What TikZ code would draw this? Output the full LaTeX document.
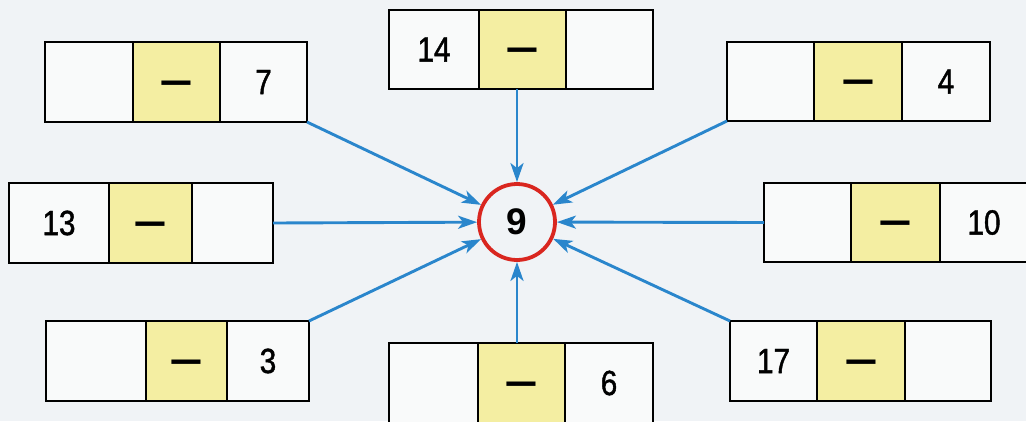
\documentclass[tikz,border=0pt]{standalone}
\usepackage{fontspec}
\setmainfont{Liberation Sans}
\newfontfamily\numfont[FakeStretch=0.85,FakeBold=1.2]{Liberation Sans}
\usetikzlibrary{arrows.meta,calc}
\definecolor{bg}{HTML}{F0F3F6}
\definecolor{cellwhite}{HTML}{F9FAFA}
\definecolor{cellyellow}{HTML}{F4EEA2}
\definecolor{arrowblue}{HTML}{2A86CC}
\definecolor{ringred}{HTML}{D9261F}
\newcommand\tribox[9]{%
  \node[cell, minimum width={#3-#2}, minimum height={#7-#6}] (#11) at ({(#2+#3)/2},{(#6+#7)/2}) {#8};
  \node[opcell, minimum width={#4-#3}, minimum height={#7-#6}] (#12) at ({(#3+#4)/2},{(#6+#7)/2}) {\scalebox{1.45}[1]{−}};
  \node[cell, minimum width={#5-#4}, minimum height={#7-#6}] (#13) at ({(#4+#5)/2},{(#6+#7)/2}) {#9};
}
\begin{document}
\begin{tikzpicture}[x=1pt,y=-1pt,
  cell/.style={draw=black, line width=1.9pt, fill=cellwhite, inner sep=0pt, outer sep=0pt,
    font=\numfont\fontsize{35}{35}\selectfont},
  opcell/.style={cell, fill=cellyellow, font=\bfseries\fontsize{40}{40}\selectfont,
    text height=28pt, text depth=0pt},
  ring/.style={draw=ringred, line width=3.8pt, circle, minimum size=76pt, inner sep=0pt,
    font=\bfseries\fontsize{37}{37}\selectfont},
  link/.style={draw=arrowblue, line width=2.9pt, -{Stealth[length=19pt,width=13pt,inset=5pt]}, shorten >=0pt},
]
\useasboundingbox (0,0) rectangle (1026,421);
\clip (0,0) rectangle (1026,421);
\fill[bg] (0,0) rectangle (1026,421);

\tribox{A}{45}{133}{220}{307}{42}{122}{}{7}
\tribox{B}{389}{479}{566}{653}{10}{89}{14}{}
\tribox{C}{727}{814}{902}{990}{42}{121}{}{4}
\tribox{D}{9}{109}{192}{273}{183}{263}{13}{}
\tribox{E}{764}{851}{940}{1028}{183}{262}{}{10}
\tribox{F}{46}{146}{227}{309}{321}{401}{}{3}
\tribox{G}{389}{478}{565}{653}{343}{423}{}{6}
\tribox{H}{730}{817}{905}{991}{321}{401}{17}{}

\node[ring] (nine) at (517,222) {9};

\draw[link] (A3.south east) -- (nine);
\draw[link] (nine |- B2.south) -- (nine);
\draw[link] (C1.south west) -- (nine);
\draw[link] (D3.east) -- (nine);
\draw[link] (E1.west) -- (nine);
\draw[link] (F3.north east) -- (nine);
\draw[link] (nine |- G2.north) -- (nine);
\draw[link] (H1.north west) -- (nine);
\end{tikzpicture}
\end{document}
